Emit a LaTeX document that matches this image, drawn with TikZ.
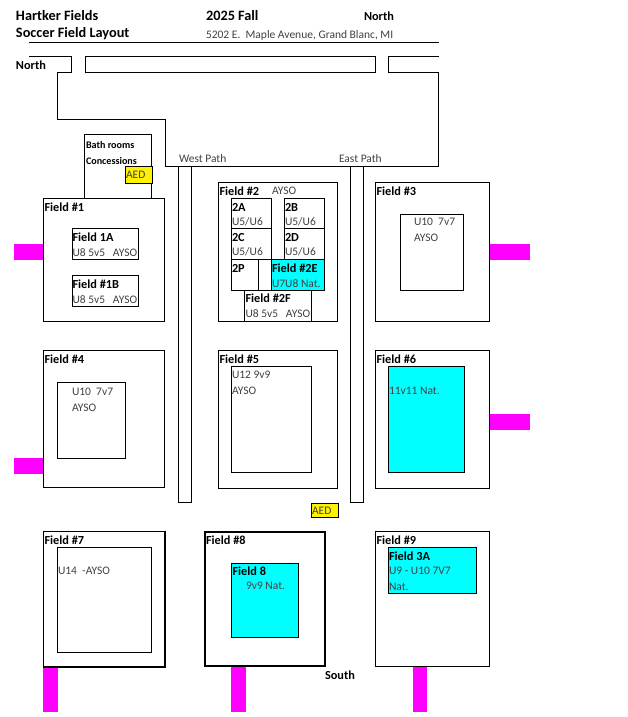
\documentclass[tikz,border=0pt]{standalone}
\usepackage{fontspec}
\setmainfont{Carlito}
\newcommand{\hdr}{\fontsize{14.3}{14.3}\selectfont\bfseries}
\newcommand{\lab}{\fontsize{12.3}{12.3}\selectfont\bfseries}
\newcommand{\smallb}{\fontsize{10.1}{10.1}\selectfont\bfseries}
\newcommand{\reg}{\fontsize{11.5}{11.5}\selectfont\color{black!75}}
\definecolor{fcyan}{RGB}{0,255,255}
\definecolor{fmag}{RGB}{255,0,255}
\tikzset{
  x=1pt,y=-1pt,
  box/.style={draw=black,line width=1pt},
  road/.style={draw=black,line width=1pt},
  thickbox/.style={draw=black,line width=2pt},
  cyanbox/.style={draw=black,fill=fcyan,line width=1pt},
  tag/.style={fill=fmag,draw=none},
  aed/.style={draw=black,fill=yellow,line width=.8pt},
  txt/.style={anchor=west,inner sep=0pt,outer sep=0pt,text=black},
}
\begin{document}
\begin{tikzpicture}
\useasboundingbox (0,0) rectangle (627,717);
% roads
\draw[road] (29,42.5) -- (439,42.5);
\draw[road] (29,57) -- (71.5,57) -- (71.5,72) -- (57.5,72) -- (57.5,119) -- (165.5,119) -- (165.5,166) -- (438.5,166) -- (438.5,72) -- (388.5,72) -- (388.5,57) -- (439,57);
\draw[road] (85,57) rectangle (375.5,72);
\draw[box] (178.5,166) rectangle (191.5,502);
\draw[box] (350.5,166) rectangle (363.5,502);
% magenta tags
\fill[tag] (14,244) rectangle (43,260);
\fill[tag] (490,244) rectangle (530,260);
\fill[tag] (14,458) rectangle (43,474);
\fill[tag] (490,414) rectangle (530,430);
\fill[tag] (43,667) rectangle (58,712);
\fill[tag] (231,667) rectangle (246,712);
\fill[tag] (413,667) rectangle (427,712);
% buildings
\draw[box] (84.5,134.5) rectangle (151.5,198.5);
\draw[aed] (125,166.5) rectangle (152,183);
\draw[aed] (311.5,503) rectangle (338.5,517);
% field 1
\draw[box] (43.5,198.5) rectangle (164.5,321.5);
\draw[box] (72,228.5) rectangle (138.5,259.5);
\draw[box] (72,275.5) rectangle (138.5,306.5);
% field 2
\draw[box] (218.5,182.5) rectangle (337.5,321.5);
\draw[box] (231.5,198.5) rectangle (271.5,228.5);
\draw[box] (284.5,198.5) rectangle (324.5,228.5);
\draw[box] (231.5,228.5) rectangle (271.5,259.5);
\draw[box] (284.5,228.5) rectangle (324.5,259.5);
\draw[box] (231.5,259.5) rectangle (258.5,290.5);
\draw[box] (258.5,259.5) rectangle (271.5,290.5);
\draw[cyanbox] (271.5,259.5) rectangle (324.5,290.5);
\draw[box] (244.5,290.5) rectangle (311.5,321.5);
% field 3
\draw[box] (375.5,182.5) rectangle (489.5,321.5);
\draw[box] (400.5,214.5) rectangle (463.5,290.5);
% field 4
\draw[box] (43.5,350.5) rectangle (164.5,487.5);
\draw[box] (57.5,382.5) rectangle (125.5,458.5);
% field 5
\draw[box] (218.5,350.5) rectangle (337.5,488);
\draw[box] (231.5,366.5) rectangle (311.5,472.5);
% field 6
\draw[box] (375.5,350.5) rectangle (489.5,488);
\draw[cyanbox] (388.5,366.5) rectangle (464,472.5);
% field 7
\draw[box,line width=1.3pt] (43.5,531.5) rectangle (165,667);
\draw[box] (57.5,547.5) rectangle (151.5,652);
% field 8
\draw[thickbox] (205,531.5) rectangle (325,666);
\draw[cyanbox] (231.5,563.5) rectangle (298.5,637);
% field 9
\draw[box] (375.5,531.5) rectangle (489.5,666.5);
\draw[cyanbox] (388.5,547.5) rectangle (476,593);
% texts
\node[txt] (t1) at (16,15.5) {\hdr Hartker Fields};
\node[txt] (t2) at (16,33.5) {\hdr Soccer Field Layout};
\node[txt] (t3) at (206,15.5) {\hdr 2025 Fall};
\node[txt] (t4) at (364,16) {\lab North};
\node[txt] (t5) at (206,35) {\reg 5202 E.\ \ Maple Avenue, Grand Blanc, MI};
\node[txt] (t6) at (16,65) {\lab North};
\node[txt] (t7) at (86,145) {\smallb Bath rooms};
\node[txt] (t8) at (86,161) {\smallb Concessions};
\node[txt] (t9) at (126,175) {\reg AED};
\node[txt] (t10) at (312,510.5) {\reg AED};
\node[txt] (t11) at (179,159) {\reg West Path};
\node[txt] (t12) at (339,159) {\reg East Path};
\node[txt] (f1) at (44.5,207) {\lab Field \#1};
\node[txt] (f1a) at (72.5,237) {\lab Field 1A};
\node[txt] (f1as) at (72.5,252.5) {\reg U8 5v5\ \ \ AYSO};
\node[txt] (f1b) at (72.5,284) {\lab Field \#1B};
\node[txt] (f1bs) at (72.5,300) {\reg U8 5v5\ \ \ AYSO};
\node[txt] (f2) at (219.5,191) {\lab Field \#2};
\node[txt] (f2s) at (272,191) {\reg AYSO};
\node[txt] (a) at (232,207.5) {\lab 2A};
\node[txt] (as) at (232,222) {\reg U5/U6};
\node[txt] (b) at (285,207.5) {\lab 2B};
\node[txt] (bs) at (285,222) {\reg U5/U6};
\node[txt] (c) at (232,237.5) {\lab 2C};
\node[txt] (cs) at (232,252) {\reg U5/U6};
\node[txt] (d) at (285,237.5) {\lab 2D};
\node[txt] (ds) at (285,252) {\reg U5/U6};
\node[txt] (p) at (232,268) {\lab 2P};
\node[txt] (e) at (272,268) {\lab Field \#2E};
\node[txt] (es) at (272,284) {\reg U7U8 Nat.};
\node[txt] (ff) at (245.5,298.5) {\lab Field \#2F};
\node[txt] (ffs) at (245.5,314) {\reg U8 5v5\ \ \ AYSO};
\node[txt] (f3) at (376.5,191) {\lab Field \#3};
\node[txt] (f3s) at (414,222) {\reg U10\ \ 7v7};
\node[txt] (f3t) at (414,237.5) {\reg AYSO};
\node[txt] (f4) at (44.5,359) {\lab Field \#4};
\node[txt] (f4s) at (72,392) {\reg U10\ \ 7v7};
\node[txt] (f4t) at (72,407.5) {\reg AYSO};
\node[txt] (f5) at (219.5,359) {\lab Field \#5};
\node[txt] (f5s) at (232,375) {\reg U12 9v9};
\node[txt] (f5t) at (232,391) {\reg AYSO};
\node[txt] (f6) at (376.5,359) {\lab Field \#6};
\node[txt] (f6s) at (389,391) {\reg 11v11 Nat.};
\node[txt] (f7) at (44.5,540) {\lab Field \#7};
\node[txt] (f7s) at (58,571) {\reg U14\ \ -AYSO};
\node[txt] (f8) at (206,540) {\lab Field \#8};
\node[txt] (f8a) at (232.5,571) {\lab Field 8};
\node[txt] (f8s) at (246,586) {\reg 9v9 Nat.};
\node[txt] (f9) at (376.5,540) {\lab Field \#9};
\node[txt] (f9a) at (389,556) {\lab Field 3A};
\node[txt] (f9s) at (389,571) {\reg U9 - U10 7V7};
\node[txt] (f9t) at (389,586.5) {\reg Nat.};
\node[txt] (s) at (325,675) {\lab South};
\end{tikzpicture}
\end{document}
